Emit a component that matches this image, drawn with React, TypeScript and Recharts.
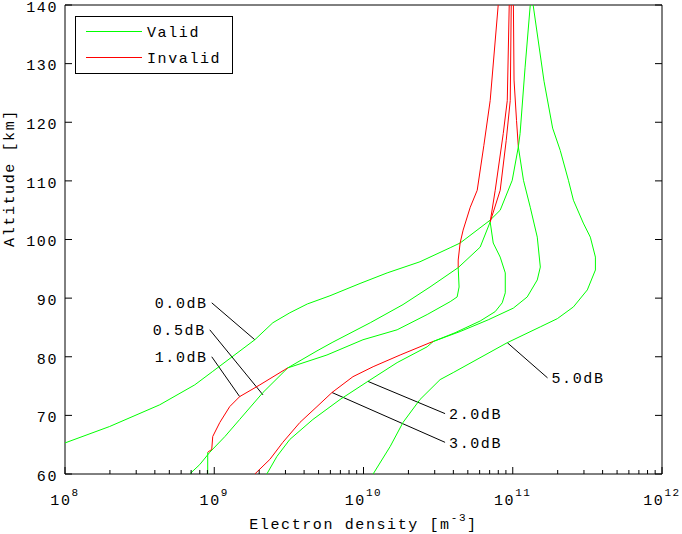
import React from "react";
import { ScatterChart, Scatter, XAxis, YAxis, ReferenceLine, ReferenceDot, Legend } from "recharts";

const GREEN = "#00ff00";
const RED = "#ff0000";
const FONT = "Liberation Mono";

type Pt = [number, number]; // [electron density m^-3, altitude km]

const legendItems = ["Valid", "Invalid"];
const decades = [1e8, 1e9, 1e10, 1e11, 1e12];
const altitudeTicks = [60, 70, 80, 90, 100, 110, 120, 130, 140];

// 0.0 dB profile
const p00Valid: Pt[] = [
  [1e8, 65.3], [1.99e8, 68.1], [4.31e8, 71.8], [7.4e8, 75.2], [9.77e8, 77.5],
  [1.87e9, 82.9], [2.47e9, 85.8], [3.21e9, 87.5], [4.2e9, 89.0], [5.96e9, 90.4], [9.48e9, 92.5],
  [1.44e10, 94.3], [2.39e10, 96.2], [3.81e10, 98.6], [4.44e10, 99.4], [7.06e10, 103.3],
  [8.24e10, 105.0], [9.92e10, 110.1], [1.09e11, 115.8],
];
const p00Invalid: Pt[] = [[1.09e11, 115.8], [1.06e11, 120.3], [1.02e11, 127.2], [1.01e11, 140]];

// 0.5 dB profile
const p05Valid: Pt[] = [
  [6.85e8, 60], [7.99e8, 61.6], [9.33e8, 63.7], [1.18e9, 66.4], [1.48e9, 69.3],
  [2.12e9, 73.9], [3.11e9, 78.1], [4.88e9, 81.0], [6.24e9, 82.5], [1.11e10, 85.8],
  [1.84e10, 88.9], [2.79e10, 91.9], [4.31e10, 95.2], [6.05e10, 98.7], [7.06e10, 103.0],
];
const p05Invalid: Pt[] = [[7.06e10, 103.0], [7.63e10, 108.4], [8.64e10, 118.1], [9.19e10, 123.7], [9.47e10, 140]];

// 1.0 dB profile
const p10ValidLow: Pt[] = [[9.04e8, 60], [9.04e8, 63.7]];
const p10InvalidLow: Pt[] = [
  [9.04e8, 63.7], [9.62e8, 64.2], [9.77e8, 66.4], [1.09e9, 68.8], [1.27e9, 71.5],
  [1.48e9, 73.2], [2.02e9, 75.2], [2.97e9, 77.8], [3.11e9, 78.1],
];
const p10ValidMid: Pt[] = [
  [3.11e9, 78.1], [5.69e9, 80.3], [9.92e9, 82.9], [1.68e10, 84.6], [2.67e10, 87.2],
  [3.81e10, 89.4], [4.24e10, 90.2], [4.37e10, 91.9], [4.31e10, 95.2],
];
const p10InvalidHigh: Pt[] = [
  [4.31e10, 95.2], [4.31e10, 96.5], [4.44e10, 99.4], [4.65e10, 101.6], [5.19e10, 105.5],
  [5.78e10, 108.4], [6.4e10, 116.0], [7.06e10, 123.7], [7.99e10, 140],
];

// 2.0 dB profile
const p20Valid: Pt[] = [
  [2.25e9, 60], [2.63e9, 63.0], [3.21e9, 65.9], [4.58e9, 69.3], [6.96e9, 72.7],
  [1.07e10, 75.8], [1.68e10, 79.0], [2.67e10, 81.7], [2.93e10, 82.6], [4.11e10, 84.1],
  [6.05e10, 86.1], [7.63e10, 87.7], [8.5e10, 89.2], [8.91e10, 90.9], [8.91e10, 94.3],
  [8.24e10, 97.0], [7.4e10, 99.4], [7.06e10, 103.0],
];
const p20Invalid: Pt[] = [[7.06e10, 103.0], [8.24e10, 108.4], [9.04e10, 116.9], [9.62e10, 123.7], [9.77e10, 140]];

// 3.0 dB profile
const p30Invalid: Pt[] = [
  [1.87e9, 60], [2.36e9, 62.5], [2.88e9, 65.4], [3.75e9, 68.8], [4.88e9, 71.5],
  [6.15e9, 73.9], [8.5e9, 76.6], [1.16e10, 78.3], [1.76e10, 80.3], [2.79e10, 82.4], [2.93e10, 82.6],
];
const p30Valid: Pt[] = [
  [2.93e10, 82.6], [4.44e10, 84.3], [6.85e10, 86.3], [1.01e11, 88.3], [1.25e11, 90.2],
  [1.46e11, 93.1], [1.53e11, 95.3], [1.46e11, 100.4], [1.31e11, 105.5], [1.18e11, 110.1],
  [1.09e11, 115.8], [1.12e11, 118.1], [1.21e11, 129.4], [1.31e11, 140],
];

// 5.0 dB profile
const p50Valid: Pt[] = [
  [1.16e10, 60], [1.51e10, 64.7], [1.84e10, 68.8], [2.39e10, 72.7], [3.26e10, 76.1],
  [3.99e10, 77.3], [9.19e10, 82.4], [1.53e11, 85.1], [1.99e11, 86.5], [2.55e11, 88.5],
  [3.16e11, 91.4], [3.58e11, 94.8], [3.58e11, 97.0], [3.31e11, 100.4], [2.97e11, 102.8],
  [2.55e11, 106.7], [2.36e11, 110.1], [2.08e11, 115.2], [1.85e11, 119.0], [1.62e11, 127.0],
  [1.37e11, 140],
];

const segments: { valid: boolean; pts: Pt[] }[] = [
  { valid: true, pts: p00Valid }, { valid: false, pts: p00Invalid },
  { valid: true, pts: p05Valid }, { valid: false, pts: p05Invalid },
  { valid: true, pts: p10ValidLow }, { valid: false, pts: p10InvalidLow },
  { valid: true, pts: p10ValidMid }, { valid: false, pts: p10InvalidHigh },
  { valid: true, pts: p20Valid }, { valid: false, pts: p20Invalid },
  { valid: false, pts: p30Invalid }, { valid: true, pts: p30Valid },
  { valid: true, pts: p50Valid },
];

// annotations: text, point on curve, start of pointer, side of text
const labelNames = ["0.0dB", "0.5dB", "1.0dB", "2.0dB", "3.0dB", "5.0dB"];
const labelCurvePts: Pt[] = [[1.87e9, 82.9], [2.12e9, 73.5], [1.48e9, 73.2], [1.07e10, 75.8], [6.15e9, 73.9], [9.19e10, 82.4]];
const labelTextPts: Pt[] = [[9.62e8, 89.2], [9.33e8, 84.6], [9.62e8, 80.0], [3.52e10, 70.3], [3.52e10, 65.4], [1.71e11, 76.4]];
const labelSides = ["left", "left", "left", "right", "right", "right"];

const xTickValues = decades.flatMap((d, i) =>
  i === decades.length - 1 ? [d] : [1, 2, 3, 4, 5, 6, 7, 8, 9].map((m) => m * d)
);

const isMajor = (v: number) => {
  const e = Math.log10(v);
  return Math.abs(e - Math.round(e)) < 1e-6;
};

const textStyle = { fontFamily: FONT, fontSize: 15, letterSpacing: 1.6, fill: "#000" };

const BottomTick = (props: any) => {
  const { x, y, payload } = props;
  const major = isMajor(payload.value);
  return (
    <g>
      <line x1={x} x2={x} y1={y} y2={y - (major ? 7 : 4)} stroke="#000" />
      {major && (
        <text x={x} y={y + 31} textAnchor="middle" {...textStyle}>
          10<tspan dy={-9} fontSize={11}>{Math.round(Math.log10(payload.value))}</tspan>
        </text>
      )}
    </g>
  );
};

const TopTick = (props: any) => {
  const { x, y, payload } = props;
  const major = isMajor(payload.value);
  return <line x1={x} x2={x} y1={y} y2={y + (major ? 7 : 4)} stroke="#000" />;
};

const LeftTick = (props: any) => {
  const { x, y, payload } = props;
  return (
    <g>
      <line x1={x} x2={x + 7} y1={y} y2={y} stroke="#000" />
      <text x={x - 7} y={y} dy="0.45em" textAnchor="end" {...textStyle}>{payload.value}</text>
    </g>
  );
};

const RightTick = (props: any) => {
  const { x, y } = props;
  return <line x1={x} x2={x - 7} y1={y} y2={y} stroke="#000" />;
};

const XTitle = (props: any) => {
  const { viewBox } = props;
  const cx = viewBox.x + viewBox.width / 2;
  return (
    <text x={cx} y={viewBox.y + 55} textAnchor="middle" {...textStyle}>
      Electron density [m<tspan dy={-8} fontSize={11}>-3</tspan><tspan dy={8}>]</tspan>
    </text>
  );
};

const YTitle = () => (
  <text x={14} y={178} transform="rotate(-90, 14, 178)" textAnchor="middle" {...textStyle}>
    Altitude [km]
  </text>
);

const LegendBox = () => (
  <svg width={158} height={58} style={{ display: "block" }}>
    <rect x={0.5} y={0.5} width={157} height={57} fill="#fff" stroke="#000" />
    {legendItems.map((name, i) => (
      <g key={name}>
        <line x1={11} x2={67} y1={15.5 + i * 26} y2={15.5 + i * 26} stroke={i === 0 ? GREEN : RED} />
        <text x={72} y={15.5 + i * 26} dy="0.35em" {...textStyle}>{name}</text>
      </g>
    ))}
  </svg>
);

const noDot = () => <g />;

export default function App() {
  return (
    <div style={{ position: "absolute", left: 0, top: 0, background: "#fff" }}>
      <ScatterChart width={682} height={534} margin={{ top: 0, right: 0, bottom: 0, left: 0 }}>
        <XAxis
          xAxisId="bottom"
          type="number"
          dataKey="d"
          scale="log"
          domain={[1e8, 1e12]}
          allowDataOverflow
          ticks={xTickValues}
          interval={0}
          tickSize={0}
          tickMargin={0}
          tickLine={false}
          tick={<BottomTick />}
          height={60}
          stroke="#000"
          label={<XTitle />}
        />
        <XAxis
          xAxisId="top"
          orientation="top"
          type="number"
          scale="log"
          domain={[1e8, 1e12]}
          allowDataOverflow
          ticks={xTickValues}
          interval={0}
          tickSize={0}
          tickMargin={0}
          tickLine={false}
          tick={<TopTick />}
          height={5}
          stroke="#000"
        />
        <YAxis
          yAxisId="left"
          type="number"
          dataKey="h"
          domain={[60, 140]}
          allowDataOverflow
          ticks={altitudeTicks}
          interval={0}
          tickSize={0}
          tickMargin={0}
          tickLine={false}
          tick={<LeftTick />}
          width={65}
          stroke="#000"
          label={<YTitle />}
        />
        <YAxis
          yAxisId="right"
          orientation="right"
          type="number"
          domain={[60, 140]}
          allowDataOverflow
          ticks={altitudeTicks}
          interval={0}
          tickSize={0}
          tickMargin={0}
          tickLine={false}
          tick={<RightTick />}
          width={20}
          stroke="#000"
        />
        <Legend
          content={<LegendBox />}
          layout="horizontal"
          align="center"
          verticalAlign="middle"
          wrapperStyle={{ position: "absolute", left: 75, top: 16, width: 158, height: 58 }}
        />
        {segments.map((s, i) => (
          <Scatter
            key={i}
            xAxisId="bottom"
            yAxisId="left"
            data={s.pts.map(([d, h]) => ({ d, h }))}
            fill={s.valid ? GREEN : RED}
            line={{ stroke: s.valid ? GREEN : RED, strokeWidth: 1 }}
            lineType="joint"
            shape={noDot}
            legendType="none"
            isAnimationActive={false}
          />
        ))}
        {labelNames.map((name, i) => (
          <ReferenceLine
            key={"p" + name}
            xAxisId="bottom"
            yAxisId="left"
            segment={[
              { x: labelTextPts[i][0], y: labelTextPts[i][1] },
              { x: labelCurvePts[i][0], y: labelCurvePts[i][1] },
            ]}
            stroke="#000"
            strokeWidth={1}
            ifOverflow="visible"
          />
        ))}
        {labelNames.map((name, i) => (
          <ReferenceDot
            key={"t" + name}
            xAxisId="bottom"
            yAxisId="left"
            x={labelTextPts[i][0]}
            y={labelTextPts[i][1]}
            r={0}
            fill="none"
            stroke="none"
            ifOverflow="visible"
            label={{ value: name, position: labelSides[i] as any, offset: 4, ...textStyle }}
          />
        ))}
      </ScatterChart>
    </div>
  );
}
